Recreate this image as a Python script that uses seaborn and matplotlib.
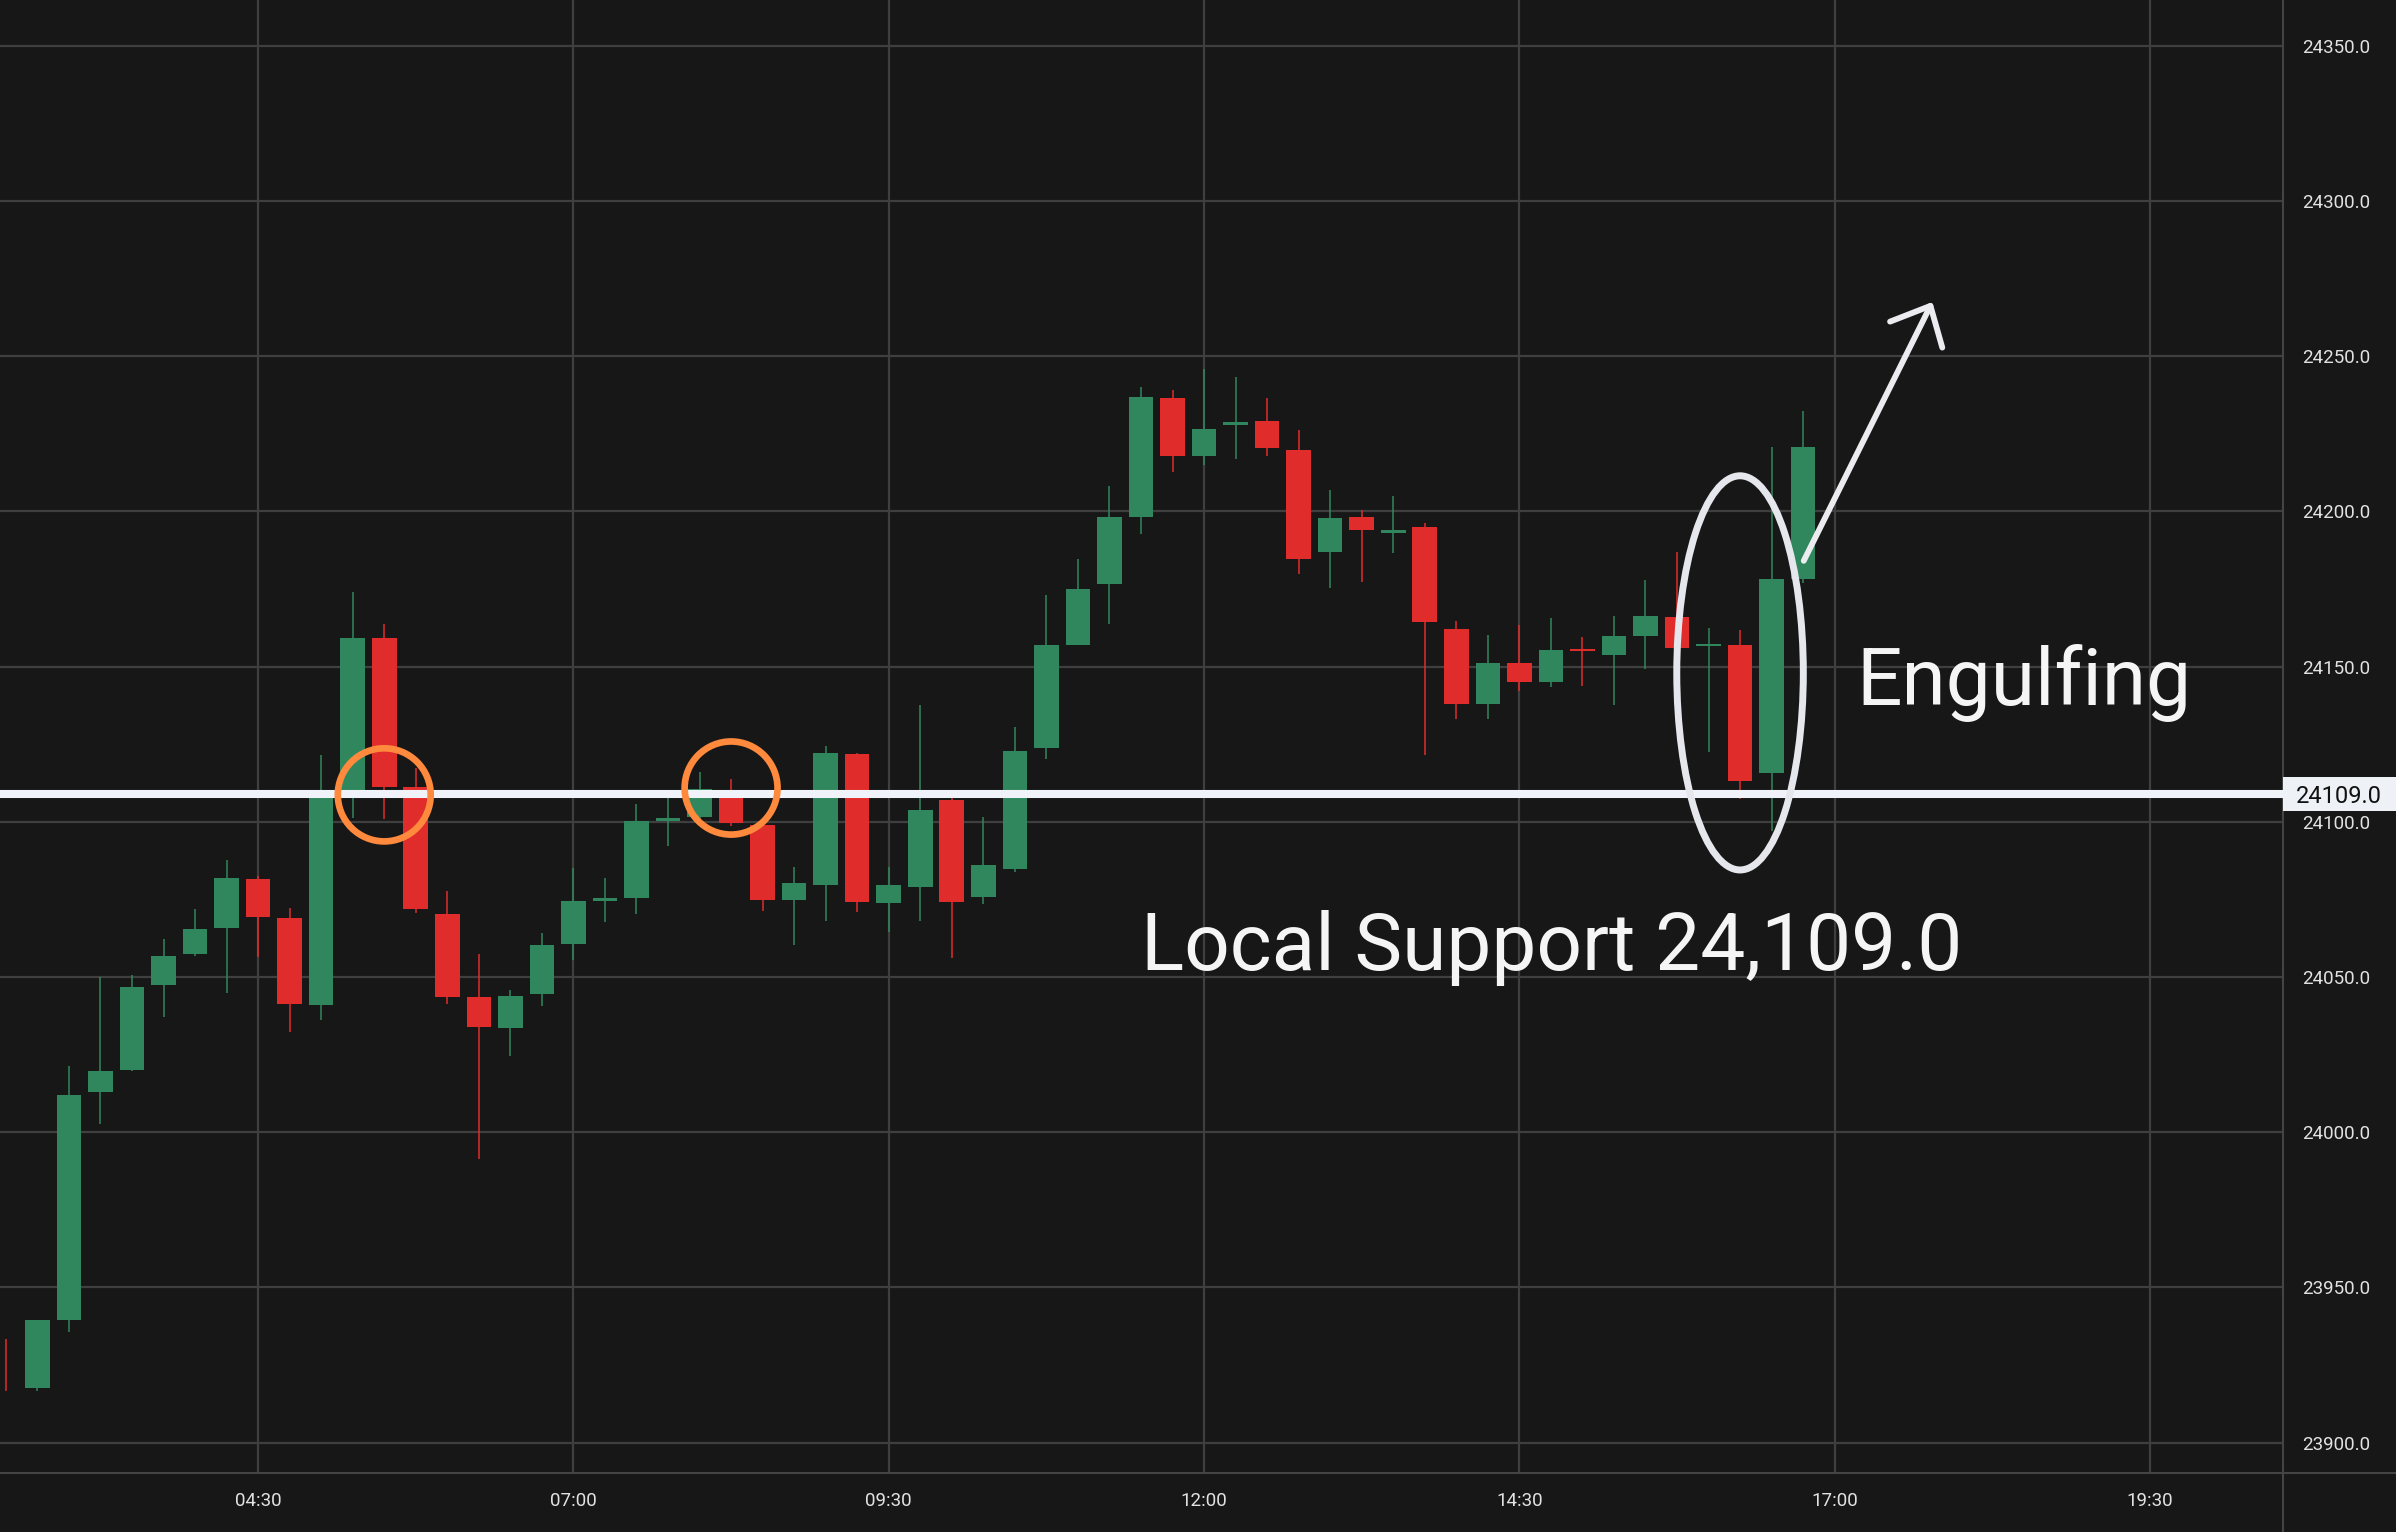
import numpy as np
import pandas as pd
import seaborn as sns
import matplotlib.pyplot as plt
import matplotlib.transforms as mtransforms
from matplotlib.patches import Ellipse, Rectangle
from matplotlib.lines import Line2D

# 15 min candles
times = ["02:30", "02:45", "03:00", "03:15", "03:30", "03:45", "04:00", "04:15",
         "04:30", "04:45", "05:00", "05:15", "05:30", "05:45", "06:00", "06:15",
         "06:30", "06:45", "07:00", "07:15", "07:30", "07:45", "08:00", "08:15",
         "08:30", "08:45", "09:00", "09:15", "09:30", "09:45", "10:00", "10:15",
         "10:30", "10:45", "11:00", "11:15", "11:30", "11:45", "12:00", "12:15",
         "12:30", "12:45", "13:00", "13:15", "13:30", "13:45", "14:00", "14:15",
         "14:30", "14:45", "15:00", "15:15", "15:30", "15:45", "16:00", "16:15",
         "16:30", "16:45"]
opens = [23930.0, 23917.7, 23939.5, 24012.8, 24020.2, 24047.4, 24057.4, 24065.7,
         24081.5, 24069.0, 24040.9, 24108.0, 24159.1, 24111.3, 24070.4, 24043.7,
         24033.5, 24044.4, 24060.6, 24074.6, 24075.4, 24100.4, 24101.5, 24107.8,
         24099.1, 24074.8, 24079.6, 24121.9, 24073.9, 24079.1, 24107.2, 24075.7,
         24084.8, 24123.9, 24157.0, 24176.7, 24198.3, 24236.7, 24218.0, 24227.9,
         24229.1, 24219.8, 24187.0, 24198.1, 24193.2, 24195.0, 24162.0, 24138.0,
         24151.2, 24145.0, 24155.4, 24153.9, 24160.0, 24166.1, 24156.5, 24157.1,
         24115.9, 24178.3]
highs = [23933.3, 23939.5, 24021.3, 24050.0, 24050.5, 24062.4, 24072.0, 24087.6,
         24082.4, 24072.2, 24121.7, 24174.1, 24163.9, 24117.2, 24077.8, 24057.4,
         24045.7, 24064.3, 24085.0, 24082.0, 24105.6, 24107.8, 24116.0, 24113.7,
         24099.5, 24085.6, 24124.6, 24122.2, 24085.6, 24137.6, 24107.8, 24101.5,
         24130.4, 24173.1, 24184.6, 24208.1, 24240.2, 24239.1, 24245.9, 24243.3,
         24236.7, 24226.3, 24206.9, 24200.4, 24205.0, 24196.3, 24164.6, 24160.2,
         24163.5, 24165.8, 24159.6, 24166.4, 24178.0, 24186.8, 24162.6, 24161.8,
         24220.8, 24232.4]
lows = [23916.6, 23916.6, 23935.7, 24002.8, 24019.8, 24037.0, 24056.7, 24044.8,
        24056.5, 24032.4, 24036.1, 24101.3, 24100.9, 24070.7, 24041.3, 23991.3,
        24024.4, 24040.6, 24055.6, 24067.6, 24070.4, 24092.2, 24100.0, 24098.7,
        24071.3, 24060.4, 24068.0, 24070.9, 24064.4, 24068.0, 24056.1, 24073.5,
        24083.7, 24120.4, 24157.0, 24163.9, 24192.6, 24212.6, 24215.0, 24217.0,
        24218.0, 24180.0, 24175.2, 24177.4, 24186.5, 24121.7, 24133.1, 24133.1,
        24142.0, 24143.4, 24143.7, 24137.7, 24149.4, 24155.9, 24122.6, 24107.4,
        24097.0, 24176.9]
closes = [23920.0, 23939.5, 24012.0, 24019.8, 24046.9, 24056.8, 24065.6, 24082.0,
          24069.3, 24041.3, 24107.8, 24159.1, 24111.3, 24071.9, 24043.5, 24033.9,
          24043.9, 24060.4, 24074.6, 24075.2, 24100.4, 24101.0, 24110.5, 24099.6,
          24074.8, 24080.2, 24122.2, 24074.1, 24079.6, 24103.7, 24074.1, 24086.1,
          24122.8, 24157.0, 24175.0, 24198.1, 24237.0, 24218.0, 24226.7, 24228.7,
          24220.4, 24184.8, 24197.8, 24193.9, 24193.8, 24164.3, 24138.0, 24151.1,
          24145.0, 24155.3, 24155.0, 24159.9, 24166.4, 24155.9, 24157.0, 24113.3,
          24178.1, 24220.9]

xtick_labels = ["04:30", "07:00", "09:30", "12:00", "14:30", "17:00", "19:30"]
ytick_values = [23900, 23950, 24000, 24050, 24100, 24150, 24200, 24250, 24300, 24350]
support = 24109.0
touch_times = ["05:30", "08:15"]
touch_prices = [24108.7, 24110.9]
engulf_time = "16:15"


def to_min(t):
    h, m = t.split(":")
    return int(h) * 60 + int(m)


bg = "#171717"
grid = "#3f3f3f"
up = "#31875d"
down = "#e12c2c"
white = "#eef1f6"

sns.set_theme(style="dark", rc={
    "axes.facecolor": bg,
    "figure.facecolor": bg,
    "grid.color": grid,
    "grid.linewidth": 1.6,
    "axes.edgecolor": "#444444",
})
plt.rcParams["font.family"] = ["Roboto", "DejaVu Sans"]

df = pd.DataFrame({"time": times, "open": opens, "high": highs,
                   "low": lows, "close": closes})
df["x"] = df["time"].map(to_min)
df["bull"] = df["close"] >= df["open"]
df["color"] = np.where(df["bull"], up, down)

W, H = 2396, 1532
ax_w, ax_h = 2283, 1473
fig = plt.figure(figsize=(W / 100, H / 100), dpi=100)
ax = fig.add_axes([0, 1 - ax_h / H, ax_w / W, ax_h / H])

xmin, xmax = 147.2, 1233.3
ymin, ymax = 23890.2, 24364.8
body_w = 11.7

# wicks
ax.vlines(df["x"], df["low"], df["high"], colors=df["color"], lw=1.1, zorder=2)
# bodies, skip the ones cut by the left edge (like the platform does)
vis = df[df["x"] - body_w / 2 >= xmin]
bottom = vis[["open", "close"]].min(axis=1)
height = (vis["close"] - vis["open"]).abs().clip(lower=0.8)
ax.bar(vis["x"], height, bottom=bottom, width=body_w, color=vis["color"],
       linewidth=0, zorder=3)

ax.set_xlim(xmin, xmax)
ax.set_ylim(ymin, ymax)

ax.set_xticks([to_min(t) for t in xtick_labels])
ax.set_xticklabels(xtick_labels)
ax.yaxis.tick_right()
ax.set_yticks(ytick_values)
ax.set_yticklabels([f"{v:.1f}" for v in ytick_values])
ax.tick_params(axis="both", length=0, labelsize=13.5, colors="#e2e2e2", pad=14)
ax.grid(True, color=grid, lw=1.6, zorder=0)
ax.set_axisbelow(True)
ax.set_xlabel("")
ax.set_ylabel("")

for s in ["top", "left"]:
    ax.spines[s].set_visible(False)
for s in ["bottom", "right"]:
    ax.spines[s].set_color("#444444")
    ax.spines[s].set_linewidth(1.5)

# extend the axis frame lines to the figure edges
yb = 1 - ax_h / H
xr = ax_w / W
fig.add_artist(Line2D([xr, 1], [yb, yb], color="#444444", lw=1.5))
fig.add_artist(Line2D([xr, xr], [0, yb], color="#444444", lw=1.5))

# support line + price tag
ax.axhline(support, color="#f0f3fa", lw=5.8, zorder=4)
trans = mtransforms.blended_transform_factory(ax.transAxes, ax.transData)
ax.add_patch(Rectangle((1.0, support - 5.5), (W - ax_w) / ax_w, 11.0,
                       transform=trans, facecolor=white, edgecolor="none",
                       clip_on=False, zorder=10))
ax.text(2339 / ax_w, support, f"{support:.1f}", transform=trans, ha="center",
        va="center_baseline", fontsize=17, color="#111111", clip_on=False,
        zorder=11)

# touches of the support
for t, p in zip(touch_times, touch_prices):
    ax.add_patch(Ellipse((to_min(t), p), 44.2, 30.0, fill=False,
                         edgecolor="#ff8a3d", lw=4.8, zorder=6))

# engulfing pattern
ax.add_patch(Ellipse((to_min(engulf_time), 24148.0), 60.2, 127.0, fill=False,
                     edgecolor="#e6e7ec", lw=5.0, zorder=6))
ax.annotate("", xy=(1066.5, 24267.5), xytext=(1005.3, 24184.1),
            arrowprops=dict(arrowstyle="->,head_length=1.1,head_width=1.0",
                            mutation_scale=21, color="#ececf0", lw=4.2,
                            shrinkA=0, shrinkB=0),
            zorder=7)

fig.text(1856 / W, 1 - 705 / H, "Engulfing", fontsize=57.7, color="#f5f5f5",
         ha="left", va="baseline")
fig.text(1141 / W, 1 - 969.5 / H, "Local Support 24,109.0", fontsize=57.7,
         color="#f5f5f5", ha="left", va="baseline")

fig.savefig("out.png", dpi=100, facecolor=bg)
